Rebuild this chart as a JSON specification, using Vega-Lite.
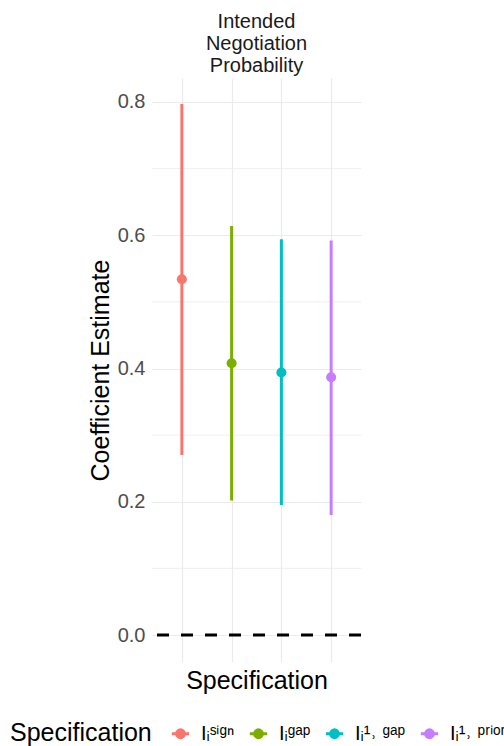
{
  "$schema": "https://vega.github.io/schema/vega-lite/v6.json",
  "width": 209,
  "height": 584,
  "autosize": {"type": "none"},
  "padding": {"left": 152, "top": 78, "right": 143, "bottom": 84},
  "background": "white",
  "config": {
    "font": "Liberation Sans",
    "view": {"stroke": null},
    "axis": {"gridColor": "#EBEBEB", "gridWidth": 1.2, "domain": false, "ticks": false}
  },
  "title": {
    "text": ["Intended", "Negotiation", "Probability"],
    "fontSize": 20,
    "fontWeight": "normal",
    "color": "#1A1A1A",
    "anchor": "middle",
    "lineHeight": 22,
    "offset": 2
  },
  "data": {
    "values": [
      {"spec": "sign", "est": 0.534, "low": 0.270, "high": 0.797},
      {"spec": "gap", "est": 0.408, "low": 0.202, "high": 0.614},
      {"spec": "1, gap", "est": 0.394, "low": 0.195, "high": 0.594},
      {"spec": "1, prior", "est": 0.387, "low": 0.180, "high": 0.592}
    ]
  },
  "layer": [
    {
      "data": {"values": [{"v": 0.1}, {"v": 0.3}, {"v": 0.5}, {"v": 0.7}]},
      "mark": {"type": "rule", "color": "#EBEBEB", "strokeWidth": 0.8},
      "encoding": {"y": {"field": "v", "type": "quantitative"}}
    },
    {
      "data": {"values": [{"z": 0}]},
      "mark": {"type": "rule", "color": "black", "strokeWidth": 3, "strokeDash": [12, 12]},
      "encoding": {"y": {"field": "z", "type": "quantitative"}}
    },
    {
      "mark": {"type": "rule", "strokeWidth": 3},
      "encoding": {
        "x": {"field": "spec", "type": "nominal"},
        "y": {"field": "low", "type": "quantitative"},
        "y2": {"field": "high"},
        "color": {"field": "spec", "type": "nominal"}
      }
    },
    {
      "mark": {"type": "point", "filled": true, "size": 100, "opacity": 1},
      "encoding": {
        "x": {
          "field": "spec",
          "type": "nominal",
          "sort": ["sign", "gap", "1, gap", "1, prior"],
          "scale": {"type": "point", "padding": 0.6, "domain": ["sign", "gap", "1, gap", "1, prior"]},
          "axis": {"labels": false, "grid": true, "title": "Specification", "titleFontSize": 25, "titleFontWeight": "normal", "titleColor": "black", "titlePadding": 6}
        },
        "y": {
          "field": "est",
          "type": "quantitative",
          "scale": {"domain": [-0.0405, 0.836], "nice": false, "zero": false},
          "axis": {"values": [0, 0.2, 0.4, 0.6, 0.8], "format": ".1f", "labelFontSize": 20, "labelColor": "#4D4D4D", "labelPadding": 7, "title": "Coefficient Estimate", "titleFontSize": 25, "titleFontWeight": "normal", "titleColor": "black", "titlePadding": 4}
        },
        "color": {
          "field": "spec",
          "type": "nominal",
          "scale": {"domain": ["sign", "gap", "1, gap", "1, prior"], "range": ["#F8766D", "#7CAE00", "#00BFC4", "#C77CFF"]},
          "legend": {
            "orient": "none",
            "legendX": -142,
            "legendY": 645,
            "direction": "horizontal",
            "titleOrient": "left",
            "title": "Specification",
            "titleFontSize": 25,
            "titleFontWeight": "normal",
            "titleColor": "black",
            "titlePadding": 18,
            "labelFontSize": 20,
            "labelColor": "black",
            "labelOffset": 10,
            "labelExpr": "datum.value == 'sign' ? 'Iᵢˢⁱᵍⁿ' : datum.value == 'gap' ? 'Iᵢᵍᵃᵖ' : datum.value == '1, gap' ? 'Iᵢ¹˒ ᵍᵃᵖ' : 'Iᵢ¹˒ ᵖʳⁱᵒʳ'",
            "symbolType": "M-1,0L1,0M0.45,0A0.45,0.45 0 1,1 -0.45,0A0.45,0.45 0 1,1 0.45,0Z",
            "symbolSize": 300,
            "symbolStrokeWidth": 3,
            "columnPadding": 8,
            "padding": 0
          }
        }
      }
    }
  ]
}
